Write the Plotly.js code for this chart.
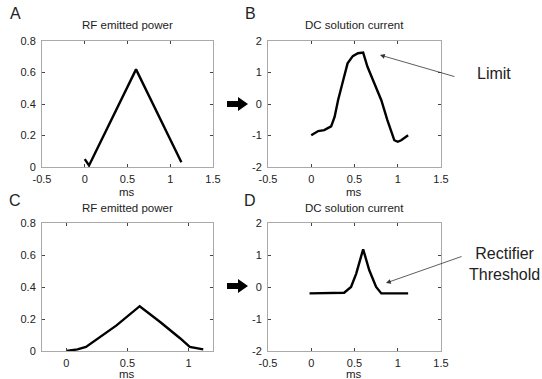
<!DOCTYPE html>
<html><head><meta charset="utf-8">
<script src="https://cdn.plot.ly/plotly-3.0.1.min.js"></script>
<style>body{margin:0;background:#fff}#c{width:542px;height:379px}</style>
</head><body><div id="c"></div>
<script>
// Panel A: RF emitted power (high)
const aX = [0, 0.05, 0.6, 1.13];
const aY = [0.05, 0.01, 0.62, 0.03];
// Panel B: DC solution current (limited)
const bX = [0, 0.08, 0.15, 0.23, 0.27, 0.31, 0.37, 0.42, 0.48, 0.54, 0.6, 0.65, 0.73, 0.81, 0.88, 0.96, 1.0, 1.04, 1.12];
const bY = [-0.99, -0.86, -0.83, -0.71, -0.41, 0.12, 0.76, 1.29, 1.52, 1.61, 1.63, 1.18, 0.65, 0.12, -0.51, -1.15, -1.2, -1.15, -0.99];
// Panel C: RF emitted power (low)
const cX = [0, 0.09, 0.16, 0.28, 0.41, 0.6, 0.77, 0.93, 1.01, 1.12];
const cY = [0.0, 0.01, 0.025, 0.09, 0.16, 0.28, 0.18, 0.08, 0.025, 0.01];
// Panel D: DC solution current (rectified)
const dX = [-0.02, 0.38, 0.46, 0.52, 0.6, 0.67, 0.75, 0.81, 1.12];
const dY = [-0.2, -0.18, 0.0, 0.42, 1.18, 0.53, 0.0, -0.2, -0.2];

const W = 542, H = 379;
const px = v => v / W, py = v => 1 - v / H;
const ln = {color: '#000', width: 2.4};
const traces = [
  {x: aX, y: aY, xaxis: 'x', yaxis: 'y', mode: 'lines', line: ln},
  {x: bX, y: bY, xaxis: 'x2', yaxis: 'y2', mode: 'lines', line: ln},
  {x: cX, y: cY, xaxis: 'x3', yaxis: 'y3', mode: 'lines', line: ln},
  {x: dX, y: dY, xaxis: 'x4', yaxis: 'y4', mode: 'lines', line: ln}
];
const FF = 'Liberation Sans, Arial, sans-serif';
const tf = {family: FF, size: 11, color: '#222'};
function ax(domain, range, tickvals, ticktext, anchor, standoff) {
  return {domain, range, tickvals, ticktext, anchor, showgrid: false, zeroline: false,
    showline: true, mirror: 'ticks', linecolor: '#aaa', linewidth: 1,
    ticks: 'inside', ticklen: 3, tickcolor: '#444', tickfont: tf, fixedrange: true,
    ticklabelstandoff: standoff};
}
const xA = [px(42), px(213)], xB = [px(268), px(441)];
const yTop = [py(167), py(41)], yBot = [py(351), py(223)];
const layout = {
  width: W, height: H, margin: {l: 0, r: 0, t: 0, b: 0}, showlegend: false,
  paper_bgcolor: '#fff', plot_bgcolor: '#fff',
  xaxis: ax(xA, [-0.5, 1.5], [-0.5, 0, 0.5, 1, 1.5], ['-0.5', '0', '0.5', '1', '1.5'], 'y', 2),
  yaxis: ax(yTop, [0, 0.8], [0, 0.2, 0.4, 0.6, 0.8], ['0', '0.2', '0.4', '0.6', '0.8'], 'x', 3),
  xaxis2: ax(xB, [-0.5, 1.5], [-0.5, 0, 0.5, 1, 1.5], ['-0.5', '0', '0.5', '1', '1.5'], 'y2', 2),
  yaxis2: ax(yTop, [-2, 2], [-2, -1, 0, 1, 2], ['-2', '-1', '0', '1', '2'], 'x2', 3),
  xaxis3: ax(xA, [-0.2, 1.2], [0, 0.5, 1], ['0', '0.5', '1'], 'y3', 2),
  yaxis3: ax(yBot, [0, 0.8], [0, 0.2, 0.4, 0.6, 0.8], ['0', '0.2', '0.4', '0.6', '0.8'], 'x3', 3),
  xaxis4: ax(xB, [-0.5, 1.5], [-0.5, 0, 0.5, 1, 1.5], ['-0.5', '0', '0.5', '1', '1.5'], 'y4', 2),
  yaxis4: ax(yBot, [-2, 2], [-2, -1, 0, 1, 2], ['-2', '-1', '0', '1', '2'], 'x4', 3),
  annotations: [],
  shapes: []
};
const A = layout.annotations;
function txt(t, x, y, size, xanchor) {
  A.push({text: t, x: px(x), y: py(y), xref: 'paper', yref: 'paper', showarrow: false,
    xanchor: xanchor || 'center', yanchor: 'middle',
    font: {family: FF, size: size, color: '#222'}});
}
txt('RF emitted power', 127, 25, 11.5);
txt('DC solution current', 354, 25, 11.5);
txt('RF emitted power', 127, 208, 11.5);
txt('DC solution current', 354, 208, 11.5);
txt('ms', 127, 192, 11.5);
txt('ms', 354, 192, 11.5);
txt('ms', 127, 374, 11.5);
txt('ms', 354, 374, 11.5);
txt('A', 15, 14, 16);
txt('B', 250, 14, 16);
txt('C', 15, 200, 16);
txt('D', 250, 200, 16);
txt('Limit', 475, 74, 16, 'left');
txt('Rectifier<br>Threshold', 467, 264, 16, 'left');
// thin pointer arrows
function arrow(x0, y0, x1, y1) {
  A.push({x: px(x1), y: py(y1), ax: px(x0), ay: py(y0), xref: 'paper', yref: 'paper',
    axref: 'paper', ayref: 'paper', text: '', showarrow: true, arrowhead: 2,
    arrowsize: 1.2, arrowwidth: 0.8, arrowcolor: '#333'});
}
arrow(456, 77, 380, 55);
arrow(463, 256, 386, 283);
// thick block arrows
function block(yc) {
  const pts = [[227, yc - 3], [238, yc - 3], [238, yc - 7], [248, yc], [238, yc + 7], [238, yc + 3], [227, yc + 3]];
  const path = 'M' + pts.map(p => px(p[0]) + ',' + py(p[1])).join(' L') + ' Z';
  layout.shapes.push({type: 'path', xref: 'paper', yref: 'paper', path, fillcolor: '#000', line: {width: 0}});
}
block(104);
block(286);
Plotly.newPlot('c', traces, layout, {displayModeBar: false, staticPlot: true});
</script></body></html>
